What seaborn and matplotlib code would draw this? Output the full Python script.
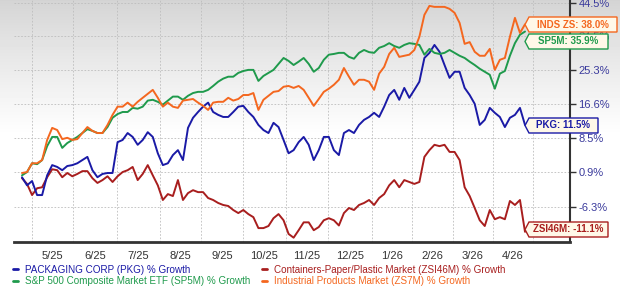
import numpy as np
import pandas as pd
import matplotlib
matplotlib.use("Agg")
import matplotlib.pyplot as plt
import seaborn as sns
from matplotlib.patches import Polygon
from matplotlib.lines import Line2D

sns.set_theme(style="white")
plt.rcParams['font.family'] = ['Liberation Sans', 'DejaVu Sans']

# ---------------- data (% growth) ----------------
pkg = [-0.2, -1.9, -1.0, -3.9, -3.9, 0.2, 2.4, 2.0, 1.3, 2.2, 2.4, 2.8, 3.5, 4.2, 1.3, -0.2, 0.5, 0.7, 0.7, 7.5,
       8.0, 9.6, 8.7, 6.9, 8.0, 9.8, 8.7, 5.0, 2.4, 2.8, 4.6, 5.7, 3.5, 10.8, 13.2, 14.6, 15.9, 16.9, 14.6, 13.9,
       13.4, 13.4, 14.6, 15.9, 16.1, 14.6, 13.4, 11.5, 10.3, 9.6, 12.0, 11.0, 8.0, 5.0, 5.7, 7.5, 8.7, 6.9, 3.5, 5.7,
       8.7, 8.7, 5.7, 4.6, 9.6, 10.3, 9.6, 11.5, 12.7, 13.4, 14.4, 13.4, 15.9, 18.8, 20.1, 17.6, 20.6, 18.1, 20.1, 22.2,
       28.5, 29.9, 32.1, 30.2, 26.6, 23.2, 24.8, 24.8, 20.6, 18.8, 16.6, 11.5, 12.7, 15.6, 14.4, 13.4, 11.0, 13.2, 13.9, 15.6,
       11.5]
sp5m = [0.2, 0.9, 2.8, 2.6, 3.5, 6.6, 8.7, 8.7, 6.2, 7.3, 8.0, 8.7, 9.6, 10.5, 10.1, 9.6, 9.6, 11.0, 13.2, 14.1,
        14.6, 14.6, 15.6, 15.4, 15.9, 17.4, 17.6, 17.1, 16.4, 17.4, 18.4, 18.4, 17.6, 18.6, 19.3, 19.6, 19.6, 20.1, 21.1, 22.2,
        23.0, 23.5, 23.5, 24.5, 25.0, 25.3, 25.3, 22.4, 23.7, 24.5, 25.3, 26.9, 28.5, 27.7, 26.6, 27.5, 28.5, 26.9, 24.8, 25.8,
        28.0, 29.4, 29.6, 29.9, 29.9, 28.8, 28.3, 29.9, 30.7, 30.1, 29.9, 31.3, 31.8, 32.6, 31.8, 31.3, 32.1, 32.6, 32.4, 32.1,
        29.4, 31.0, 29.9, 29.6, 29.9, 30.7, 29.9, 29.1, 28.5, 27.5, 26.6, 25.6, 24.8, 24.0, 20.4, 24.3, 25.0, 29.1, 32.6, 35.0,
        35.9]
zs7m = [0.7, 0.9, 2.8, 2.8, 3.5, 8.0, 10.8, 10.3, 8.2, 8.5, 8.0, 8.2, 9.6, 11.0, 10.1, 9.6, 9.6, 11.5, 13.9, 15.9,
        15.9, 16.9, 15.9, 17.1, 18.1, 19.1, 20.1, 18.1, 15.9, 16.9, 15.9, 15.6, 17.4, 17.6, 17.8, 16.9, 16.1, 15.1, 16.9, 17.1,
        17.1, 18.1, 17.4, 17.8, 18.8, 18.8, 19.3, 15.1, 17.6, 18.6, 19.6, 19.8, 20.9, 21.1, 20.6, 21.1, 20.1, 18.1, 16.1, 17.8,
        19.6, 20.4, 21.4, 22.7, 25.8, 23.5, 21.4, 22.7, 22.7, 22.2, 20.1, 24.3, 26.1, 29.6, 31.3, 28.8, 29.1, 29.4, 30.7, 34.4,
        40.8, 43.5, 43.2, 43.2, 43.2, 42.6, 41.4, 38.4, 32.4, 32.9, 30.2, 29.1, 29.1, 31.0, 25.3, 28.0, 28.5, 34.4, 39.9, 35.5,
        38.0]
zsi46m = [-0.4, -1.6, -3.9, -2.5, -2.3, -0.2, 1.5, 1.3, -0.2, 0.7, 0.0, 0.5, 1.1, 1.1, -0.4, -1.4, -0.8, 0.0, -1.2, 0.0,
          0.9, 1.3, 2.0, -0.8, 0.5, 2.4, 0.2, -1.9, -4.9, -3.7, -4.1, -0.8, -4.9, -3.5, -2.9, -3.3, -3.3, -4.5, -4.9, -5.5,
          -5.9, -6.1, -6.9, -7.5, -6.9, -7.7, -8.3, -10.4, -10.4, -10.0, -8.5, -7.7, -8.9, -11.5, -12.2, -10.8, -9.3, -9.3, -10.8, -10.2,
          -8.9, -8.5, -8.9, -9.9, -7.5, -6.5, -6.9, -5.9, -5.5, -4.9, -5.9, -4.5, -3.7, -1.9, -0.8, -2.3, -0.8, -1.2, -1.6, -1.2,
          4.2, 5.7, 6.9, 6.6, 6.9, 5.3, 5.3, 3.5, -2.3, -4.1, -6.5, -8.9, -10.0, -6.9, -8.7, -8.3, -8.7, -5.1, -5.9, -4.9,
          -11.1]

series_names = ["ZSI46M", "PKG", "SP5M", "ZS7M"]
series_values = [zsi46m, pkg, sp5m, zs7m]
colors = {"PKG": "#1a1aa6", "ZSI46M": "#a81e1e", "SP5M": "#1f9a4c", "ZS7M": "#f4671f"}

month_labels = ["5/25", "6/25", "7/25", "8/25", "9/25", "10/25", "11/25", "12/25", "1/26", "2/26", "3/26", "4/26"]
ytick_vals = [-6.3, 0.9, 8.5, 16.6, 25.3, 34.5, 44.5]

legend_labels = {
    "PKG": "PACKAGING CORP (PKG) % Growth",
    "SP5M": "S&P 500 Composite Market ETF (SP5M) % Growth",
    "ZSI46M": "Containers-Paper/Plastic Market (ZSI46M) % Growth",
    "ZS7M": "Industrial Products Market (ZS7M) % Growth",
}
end_labels = {"ZS7M": "INDS ZS: 38.0%", "SP5M": "SP5M: 35.9%", "PKG": "PKG: 11.5%", "ZSI46M": "ZSI46M: -11.1%"}

rows = []
for name, vals in zip(series_names, series_values):
    for k, v in enumerate(vals):
        rows.append((k, v, name))
df = pd.DataFrame(rows, columns=["k", "value", "series"])

# ---------------- layout ----------------
W, H = 620, 286
fig = plt.figure(figsize=(W / 100, H / 100), dpi=100)

# background gradient
bg = fig.add_axes([0, 0, 1, 1], zorder=0)
yy = np.arange(H)
g = 0.83 + (1 - 0.83) * np.clip(yy / 135.0, 0, 1) ** 0.9
grad = np.repeat(g[:, None], 2, axis=1)
bg.imshow(grad, cmap="gray", vmin=0, vmax=1, aspect="auto", extent=[0, 1, 0, 1], origin="upper")
bg.axis("off")

ax_l, ax_r, ax_t, ax_b = 14, 570, 0, 242
ax = fig.add_axes([ax_l / W, 1 - ax_b / H, (ax_r - ax_l) / W, (ax_b - ax_t) / H], zorder=1)
ax.set_facecolor("none")

def px2k(px):
    return (px - 22) / 5.03

fwd = lambda p: np.log1p(np.asarray(p) / 100.0)
inv = lambda z: np.expm1(np.asarray(z)) * 100.0
ax.set_yscale("function", functions=(fwd, inv))

sns.lineplot(data=df, x="k", y="value", hue="series", hue_order=series_names,
             palette=colors, legend=False, linewidth=1.4, ax=ax, zorder=3)

ax.set_xlim(px2k(ax_l), px2k(ax_r))
ax.set_ylim(-13.0, 45.3)

# gridlines at month starts, labels at mid-month
grid_px = [31.7, 73.3, 117, 160, 201, 243, 286, 328, 372, 412, 453, 493, 533]
ax.set_xticks([px2k(p) for p in grid_px], minor=True)
mid_px = [(grid_px[i] + grid_px[i + 1]) / 2 for i in range(len(month_labels))]
ax.set_xticks([px2k(p) for p in mid_px])
ax.set_xticklabels(month_labels)
ax.tick_params(axis="x", which="both", length=0, pad=6.5, labelsize=8, labelcolor="#333333")
ax.grid(False)
ax.grid(True, axis="x", which="minor", linestyle=(0, (2, 2)), color="#bdbdbd", linewidth=0.6)
ax.grid(True, axis="y", which="major", linestyle=(0, (2, 2)), color="#bdbdbd", linewidth=0.6)

ax.yaxis.tick_right()
ax.set_yticks(ytick_vals)
ax.set_yticks([], minor=True)
ax.set_yticklabels([f"{v:.1f}%" for v in ytick_vals])
ax.tick_params(axis="y", which="major", length=4, width=1, color="#333333", pad=2,
               labelsize=8, labelcolor="#3a3a9c")
ax.set_xlabel("")
ax.set_ylabel("")

for s in ["left", "top"]:
    ax.spines[s].set_visible(False)
ax.spines["bottom"].set_color("#333333")
ax.spines["bottom"].set_linewidth(2.0)
ax.spines["right"].set_color("#333333")
ax.spines["right"].set_linewidth(1.5)

# legend
order = ["PKG", "SP5M", "ZSI46M", "ZS7M"]
handles = [Line2D([0], [0], color=colors[n], lw=2) for n in order]
fig.legend(handles, [legend_labels[n] for n in order], loc="upper left",
           bbox_to_anchor=(8 / W, 1 - 260 / H), ncol=2, frameon=False, fontsize=7.1,
           handlelength=0.5, handletextpad=0.7, columnspacing=1.2, labelspacing=0.15,
           labelcolor="linecolor", borderpad=0.0)

# end-value callout boxes
def callout(x0, x1, y0, y1, text, color):
    pts = [(x0, y0), (x1, y0), (x1, y1), (x0, y1), (x0 - 4, (y0 + y1) / 2)]
    pts = [(px / W, 1 - py / H) for px, py in pts]
    poly = Polygon(pts, closed=True, transform=fig.transFigure, facecolor="#fff8e8",
                   edgecolor=color, linewidth=1.0, zorder=5)
    fig.add_artist(poly)
    fig.text(((x0 + x1) / 2) / W, 1 - ((y0 + y1) / 2) / H, text, color=color, fontsize=7,
             fontweight="bold", ha="center", va="center", zorder=6)

callout(529, 617, 17, 32, end_labels["ZS7M"], colors["ZS7M"])
callout(529, 608, 34, 49, end_labels["SP5M"], colors["SP5M"])
callout(529, 598, 118, 133, end_labels["PKG"], colors["PKG"])
callout(529, 608, 222, 237, end_labels["ZSI46M"], colors["ZSI46M"])

fig.savefig("out.png", dpi=100)
